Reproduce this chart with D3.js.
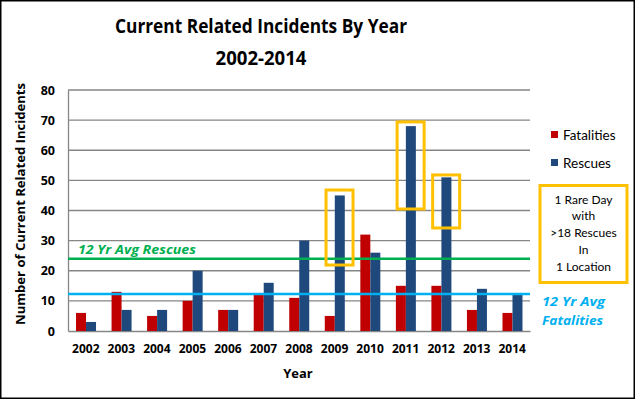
<!DOCTYPE html>
<html><head><meta charset="utf-8">
<script src="https://cdn.jsdelivr.net/npm/d3@7/dist/d3.min.js"></script>
<style>body{margin:0;background:#fff}svg{display:block;font-family:"Open Sans",Lato,sans-serif}</style>
</head><body><svg id="c" width="635" height="399"></svg>
<script>
const years = ["2002","2003","2004","2005","2006","2007","2008","2009","2010","2011","2012","2013","2014"];
const fatalities = [6,13,5,10,7,12,11,5,32,15,15,7,6];
const rescues = [3,7,7,20,7,16,30,45,26,68,51,14,12];
const yTicks = [0,10,20,30,40,50,60,70,80];
const avgRescues = 24;
const avgFatalities = 12.3;
// highlighted years: [year, top value, bottom value]
const highlights = [["2009",46.8,21.9],["2011",69.4,40.5],["2012",51.8,34.2]];
const noteLines = ["1 Rare Day","with",">18 Rescues","In","1 Location"];

const svg = d3.select("#c");
const L = 68, R = 530, T = 90, B = 331;
const x = d3.scaleBand().domain(years).range([L,R]);
const y = d3.scaleLinear().domain([0,80]).range([B,T]);
const red = "#C00000", blue = "#1F497D";

svg.append("rect").attr("x",0.75).attr("y",0.75).attr("width",633.5).attr("height",397.5)
  .attr("fill","#fff").attr("stroke","#000").attr("stroke-width",1.5);

// title
svg.append("text").attr("x",261).attr("y",33).attr("text-anchor","middle")
  .attr("font-size",20).attr("font-weight","bold").attr("textLength",292).attr("lengthAdjust","spacingAndGlyphs")
  .text("Current Related Incidents By Year");
svg.append("text").attr("x",261).attr("y",65).attr("text-anchor","middle")
  .attr("font-size",20).attr("font-weight","bold").attr("textLength",91).attr("lengthAdjust","spacingAndGlyphs")
  .text("2002-2014");

// gridlines
svg.append("g").selectAll("line").data(yTicks.filter(d=>d>0)).join("line")
  .attr("x1",L).attr("x2",R).attr("y1",d=>y(d)).attr("y2",d=>y(d))
  .attr("stroke","#868686").attr("stroke-width",1.3);

// y axis
const ya = svg.append("g").attr("transform",`translate(${L},0)`)
  .call(d3.axisLeft(y).tickValues(yTicks).tickSize(0).tickPadding(13));
ya.select(".domain").attr("stroke","#868686").attr("stroke-width",1.3);
ya.selectAll("text").attr("font-size",12.5).attr("font-weight","bold").attr("fill","#000").attr("font-family","Open Sans");

// x axis
const xa = svg.append("g").attr("transform",`translate(0,${B})`)
  .call(d3.axisBottom(x).tickSize(0).tickPadding(13));
xa.select(".domain").attr("stroke","#868686").attr("stroke-width",1.3);
xa.selectAll("text").attr("font-size",12).attr("font-weight","bold").attr("fill","#000").attr("font-family","Open Sans");

// bars
const bw = 10;
svg.append("g").selectAll("rect").data(years).join("rect")
  .attr("x",d=>x(d)+x.bandwidth()/2-bw+0.25).attr("width",bw)
  .attr("y",(d,i)=>y(fatalities[i])).attr("height",(d,i)=>y(0)-y(fatalities[i])).attr("fill",red);
svg.append("g").selectAll("rect").data(years).join("rect")
  .attr("x",d=>x(d)+x.bandwidth()/2+0.25).attr("width",bw)
  .attr("y",(d,i)=>y(rescues[i])).attr("height",(d,i)=>y(0)-y(rescues[i])).attr("fill",blue);

// average lines
svg.append("line").attr("x1",L).attr("x2",R).attr("y1",y(avgRescues)).attr("y2",y(avgRescues))
  .attr("stroke","#00B050").attr("stroke-width",2.5);
svg.append("line").attr("x1",L).attr("x2",R).attr("y1",y(avgFatalities)).attr("y2",y(avgFatalities))
  .attr("stroke","#00B0F0").attr("stroke-width",2.5);
svg.append("text").attr("x",78).attr("y",254).attr("font-size",13).attr("font-weight","bold").attr("font-style","italic")
  .attr("fill","#00B050").attr("textLength",118).attr("lengthAdjust","spacingAndGlyphs").text("12 Yr Avg Rescues");
svg.append("text").attr("x",542).attr("y",306).attr("font-size",13).attr("font-weight","bold").attr("font-style","italic")
  .attr("fill","#00B0F0").attr("textLength",63).attr("lengthAdjust","spacingAndGlyphs").text("12 Yr Avg");
svg.append("text").attr("x",542).attr("y",325).attr("font-size",13).attr("font-weight","bold").attr("font-style","italic")
  .attr("fill","#00B0F0").attr("textLength",61).attr("lengthAdjust","spacingAndGlyphs").text("Fatalities");

// highlight boxes
svg.append("g").selectAll("rect").data(highlights).join("rect")
  .attr("x",d=>x(d[0])+x.bandwidth()/2-8.5).attr("width",27)
  .attr("y",d=>y(d[1])).attr("height",d=>y(d[2])-y(d[1]))
  .attr("fill","none").attr("stroke","#FFC000").attr("stroke-width",3);

// y title
svg.append("text").attr("transform","translate(25,204) rotate(-90)").attr("text-anchor","middle")
  .attr("font-size",13).attr("font-weight","bold").attr("textLength",242).attr("lengthAdjust","spacingAndGlyphs")
  .text("Number of Current Related Incidents");
// x title
svg.append("text").attr("x",298).attr("y",378).attr("text-anchor","middle")
  .attr("font-size",13).attr("font-weight","bold").text("Year");

// legend
const leg = [["Fatalities",red,134.5],["Rescues",blue,162.5]];
leg.forEach(([t,c,cy])=>{
  svg.append("rect").attr("x",551).attr("y",cy-3.5).attr("width",7).attr("height",7).attr("fill",c);
  svg.append("text").attr("x",563).attr("y",cy+5).attr("font-size",13.5).attr("fill","#000")
    .attr("font-family","Lato").text(t);
});

// note box
svg.append("rect").attr("x",540).attr("y",185.5).attr("width",87).attr("height",97)
  .attr("fill","none").attr("stroke","#FFC000").attr("stroke-width",3);
svg.append("g").selectAll("text").data(noteLines).join("text")
  .attr("x",583.5).attr("y",(d,i)=>203.5+i*16.9).attr("text-anchor","middle")
  .attr("font-size",12).attr("font-family","Lato").attr("fill","#000").text(d=>d);
</script></body></html>
